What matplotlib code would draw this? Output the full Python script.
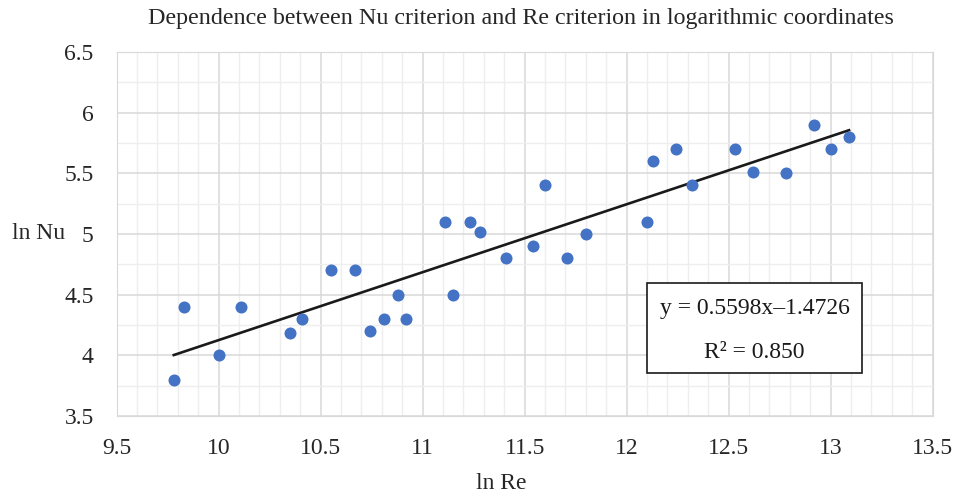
import numpy as np
import matplotlib.pyplot as plt
from matplotlib.patches import Rectangle
from matplotlib.ticker import MultipleLocator

plt.rcParams['font.family'] = ['Liberation Serif', 'DejaVu Serif']

ln_re = [9.78, 9.83, 10.0, 10.11, 10.35, 10.41, 10.55, 10.67, 10.74, 10.81,
         10.88, 10.92, 11.11, 11.15, 11.23, 11.28, 11.41, 11.54, 11.60, 11.71,
         11.80, 12.10, 12.13, 12.24, 12.32, 12.53, 12.62, 12.78, 12.92, 13.00, 13.09]
ln_nu = [3.80, 4.40, 4.00, 4.40, 4.18, 4.30, 4.70, 4.70, 4.20, 4.30,
         4.50, 4.30, 5.10, 4.50, 5.10, 5.02, 4.80, 4.90, 5.40, 4.80,
         5.00, 5.10, 5.60, 5.70, 5.40, 5.70, 5.51, 5.50, 5.90, 5.70, 5.80]
slope = 0.5598
intercept = -1.4726
r2 = 0.850

fig = plt.figure(figsize=(9.56, 4.97), dpi=100)
ax = fig.add_axes([0.122, 0.163, 0.8536, 0.7324])

ax.set_xlim(9.5, 13.5)
ax.set_ylim(3.5, 6.5)
ax.xaxis.set_major_locator(MultipleLocator(0.5))
ax.xaxis.set_minor_locator(MultipleLocator(0.1))
ax.yaxis.set_major_locator(MultipleLocator(0.5))
ax.yaxis.set_minor_locator(MultipleLocator(0.25))
ax.xaxis.set_major_formatter(lambda v, p: f"{v:g}")
ax.yaxis.set_major_formatter(lambda v, p: f"{v:g}")
ax.grid(which='major', color='#d9d9d9', lw=1.1)
ax.grid(which='minor', color='#eeeeee', lw=1.0)
ax.set_axisbelow(True)
ax.tick_params(which='both', length=0, labelsize=17, colors='#262626')
ax.tick_params(axis='x', pad=16)
ax.tick_params(axis='y', pad=16.5)
for s in ax.spines.values():
    s.set_color('#d9d9d9')

xs = np.array([min(ln_re), max(ln_re)])
ax.plot(xs, slope * xs + intercept, color='#1a1a1a', lw=1.9, zorder=3)
ax.scatter(ln_re, ln_nu, s=75, color='#4472C4', zorder=4, linewidths=0)

# equation box
ax.add_patch(Rectangle((12.10, 3.854), 1.053, 0.742, fc='white', ec='#1a1a1a',
                       lw=1.2, zorder=5))
ax.text(12.627, 4.389, f"y = {slope}x\u2013{-intercept}", ha='center', va='center',
        fontsize=17, color='#1a1a1a', zorder=6)
ax.text(12.627, 4.027, f"R\u00b2 = {r2:.3f}", ha='center', va='center',
        fontsize=17, color='#1a1a1a', zorder=6)

fig.text(0.545, 0.963, "Dependence between Nu criterion and Re criterion in logarithmic coordinates",
         ha='center', va='center', fontsize=17.3, color='#262626')
fig.text(0.040, 0.531, "ln Nu", ha='center', va='center', fontsize=17, color='#262626')
fig.text(0.5246, 0.028, "ln Re", ha='center', va='center', fontsize=17, color='#262626')

fig.savefig("out.png", dpi=100)
